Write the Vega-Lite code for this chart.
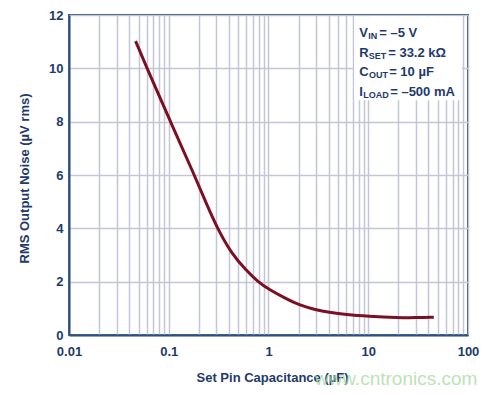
{
  "$schema": "https://vega.github.io/schema/vega-lite/v6.json",
  "width": 399,
  "height": 320,
  "autosize": {"type": "none"},
  "padding": {"left": 69, "top": 15, "right": 32, "bottom": 60},
  "background": "white",
  "config": {
    "view": {"stroke": "#2c4f7f", "strokeWidth": 2},
    "font": "Liberation Sans"
  },
  "datasets": {
    "curve": [
      {"x": 0.0465, "y": 11.02},
      {"x": 0.0598, "y": 10.05},
      {"x": 0.104, "y": 8.0},
      {"x": 0.183, "y": 5.95},
      {"x": 0.238, "y": 4.93},
      {"x": 0.307, "y": 4.0},
      {"x": 0.424, "y": 3.06},
      {"x": 0.6, "y": 2.42},
      {"x": 0.782, "y": 2.0},
      {"x": 1.0, "y": 1.72},
      {"x": 1.5, "y": 1.36},
      {"x": 2.0, "y": 1.13},
      {"x": 3.0, "y": 0.94},
      {"x": 4.0, "y": 0.85},
      {"x": 6.0, "y": 0.76},
      {"x": 10.0, "y": 0.7},
      {"x": 20.0, "y": 0.65},
      {"x": 30.0, "y": 0.65},
      {"x": 45.4, "y": 0.67}
    ],
    "box": [{"x": 7.24, "x2": 87, "y": 8.8, "y2": 11.95}],
    "ann": [
      {"x": 8.13, "y": 11.16, "t": "V", "kind": "main"},
      {"x": 10.0, "y": 11.16, "t": "IN", "kind": "sub"},
      {"x": 12.9, "y": 11.16, "t": "= –5 V", "kind": "main"},
      {"x": 8.13, "y": 10.44, "t": "R", "kind": "main"},
      {"x": 10.1, "y": 10.44, "t": "SET", "kind": "sub"},
      {"x": 15.85, "y": 10.44, "t": "= 33.2 kΩ", "kind": "main"},
      {"x": 8.13, "y": 9.71, "t": "C", "kind": "main"},
      {"x": 10.2, "y": 9.71, "t": "OUT", "kind": "sub"},
      {"x": 16.2, "y": 9.71, "t": "= 10 µF", "kind": "main"},
      {"x": 8.13, "y": 8.97, "t": "I", "kind": "main"},
      {"x": 8.91, "y": 8.97, "t": "LOAD", "kind": "sub"},
      {"x": 16.6, "y": 8.97, "t": "= –500 mA", "kind": "main"}
    ],
    "wm": [{"x": 19.0, "y": -1.875, "t": "www.cntronics.com"}]
  },
  "encoding": {
    "x": {
      "field": "x",
      "type": "quantitative",
      "scale": {"type": "log", "domain": [0.01, 100]},
      "title": "Set Pin Capacitance (µF)",
      "axis": {
        "values": [0.01, 0.02, 0.03, 0.04, 0.05, 0.06, 0.07, 0.08, 0.09, 0.1, 0.2, 0.3, 0.4, 0.5, 0.6, 0.7, 0.8, 0.9, 1, 2, 3, 4, 5, 6, 7, 8, 9, 10, 20, 30, 40, 50, 60, 70, 80, 90, 100],
        "format": "~g",
        "labelExpr": "indexof([0.01, 0.1, 1, 10, 100], datum.value) >= 0 ? datum.label : ''",
        "labelOverlap": false,
        "labelFlush": false,
        "grid": true,
        "gridColor": "#c3c6d8",
        "gridWidth": 1.5,
        "ticks": false,
        "domain": true,
        "domainColor": "#2c4f7f",
        "domainWidth": 2,
        "labelFont": "Liberation Sans",
        "labelFontSize": 13,
        "labelFontWeight": "bold",
        "labelColor": "#1e3a6b",
        "labelPadding": 10,
        "titleFont": "Liberation Sans",
        "titleFontSize": 13,
        "titleFontWeight": "bold",
        "titleColor": "#1e3a6b",
        "titleX": 203,
        "titleY": 46,
        "titleAlign": "center",
        "titleBaseline": "alphabetic"
      }
    },
    "y": {
      "field": "y",
      "type": "quantitative",
      "scale": {"domain": [0, 12]},
      "title": "RMS Output Noise (µV rms)",
      "axis": {
        "values": [0, 2, 4, 6, 8, 10, 12],
        "labelFlush": false,
        "grid": true,
        "gridColor": "#c3c6d8",
        "gridWidth": 1.5,
        "ticks": false,
        "domain": true,
        "domainColor": "#2c4f7f",
        "domainWidth": 2,
        "labelFont": "Liberation Sans",
        "labelFontSize": 13,
        "labelFontWeight": "bold",
        "labelColor": "#1e3a6b",
        "labelPadding": 6,
        "titleFont": "Liberation Sans",
        "titleFontSize": 13,
        "titleFontWeight": "bold",
        "titleColor": "#1e3a6b",
        "titleX": -41,
        "titleY": 163,
        "titleAngle": 270,
        "titleAlign": "center",
        "titleBaseline": "alphabetic"
      }
    }
  },
  "layer": [
    {
      "data": {"name": "box"},
      "mark": {"type": "rect", "fill": "white", "stroke": null},
      "encoding": {"x2": {"field": "x2"}, "y2": {"field": "y2"}}
    },
    {
      "data": {"name": "curve"},
      "mark": {"type": "line", "color": "#7d0f22", "strokeWidth": 3, "interpolate": "basis"}
    },
    {
      "data": {"name": "ann"},
      "transform": [{"filter": "datum.kind == 'main'"}],
      "mark": {"type": "text", "align": "left", "baseline": "alphabetic", "fontSize": 13, "fontWeight": "bold", "color": "#1e3a6b", "font": "Liberation Sans"},
      "encoding": {"text": {"field": "t"}}
    },
    {
      "data": {"name": "ann"},
      "transform": [{"filter": "datum.kind == 'sub'"}],
      "mark": {"type": "text", "align": "left", "baseline": "alphabetic", "dy": 2, "fontSize": 9, "fontWeight": "bold", "color": "#1e3a6b", "font": "Liberation Sans"},
      "encoding": {"text": {"field": "t"}}
    },
    {
      "data": {"name": "wm"},
      "mark": {"type": "text", "align": "center", "baseline": "alphabetic", "fontSize": 19, "color": "#a6d9a0", "opacity": 0.75, "font": "Liberation Sans"},
      "encoding": {"text": {"field": "t"}}
    }
  ]
}
